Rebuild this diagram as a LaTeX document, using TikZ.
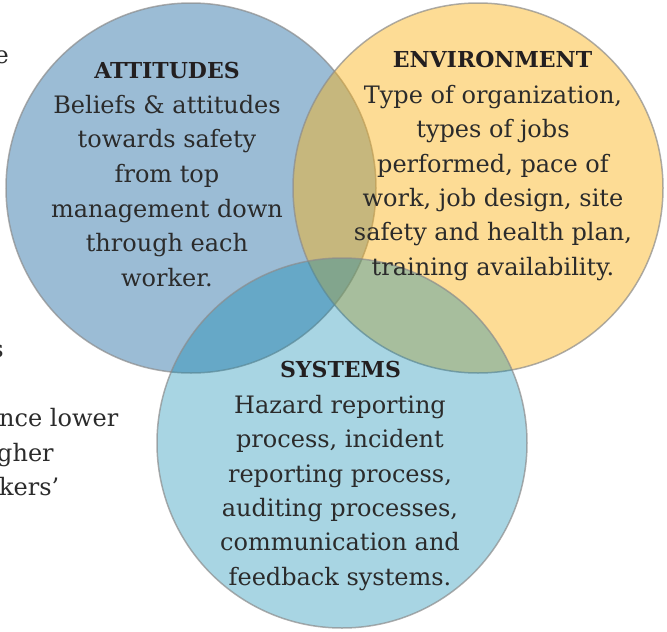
\documentclass[tikz,border=0pt]{standalone}
\usepackage{fontspec}
\setmainfont{DejaVu Serif}
\definecolor{attfill}{HTML}{9BBCD5}
\definecolor{envfill}{RGB}{251,178,20}
\definecolor{sysfill}{RGB}{0,132,173}
\definecolor{ringgray}{HTML}{8C8C8C}
\definecolor{titlecol}{HTML}{231F20}
\definecolor{bodycol}{HTML}{2B2B2B}
\begin{document}
\begin{tikzpicture}[x=1pt,y=-1pt,
  ring/.style={draw=ringgray, line width=1.5pt, draw opacity=0.7},
  title/.style={font=\bfseries\fontsize{22}{26}\selectfont, text=titlecol, anchor=base, inner sep=0pt},
  body/.style={font=\fontsize{24}{34.5}\selectfont, text=bodycol, anchor=base, inner sep=0pt}]
\useasboundingbox (0,0) rectangle (667,632);
\clip (0,0) rectangle (667,632);
% circles
\path[ring, fill=attfill] (191,188) circle[radius=185];
\path[ring, fill=envfill, fill opacity=0.45] (478,188) circle[radius=185];
\path[ring, fill=sysfill, fill opacity=0.34] (342,443) circle[radius=185];
% titles
\node[title] (tatt) at (167,78.3) {ATTITUDES};
\node[title] (tenv) at (492.5,67.7) {ENVIRONMENT};
\node[title] (tsys) at (340.5,377.3) {SYSTEMS};
% bodies
\foreach \t [count=\i] in {{Beliefs \& attitudes},{towards safety},{from top},{management down},{through each},{worker.}}
  \node[body] (a\i) at (167,{113+34.7*(\i-1)}) {\t};
\foreach \t [count=\i] in {{Type of organization,},{types of jobs},{performed, pace of},{work, job design, site},{safety and health plan,},{training availability.}}
  \node[body] (e\i) at (493,{103.3+34.35*(\i-1)}) {\t};
\foreach \t [count=\i] in {{Hazard reporting},{process, incident},{reporting process,},{auditing processes,},{communication and},{feedback systems.}}
  \node[body] (s\i) at (340,{413.3+34.35*(\i-1)}) {\t};
% cut-off text at the left edge
\node[body, anchor=base east] (f1) at (9,63) {e};
\node[body, anchor=base east] (f2) at (4,357) {s};
\node[body, anchor=base west] (f3) at (-1,426.7) {nce lower};
\node[body, anchor=base west] (f4) at (-3,461.5) {gher};
\node[body, anchor=base west] (f5) at (-1,495) {kers’};
\end{tikzpicture}
\end{document}
